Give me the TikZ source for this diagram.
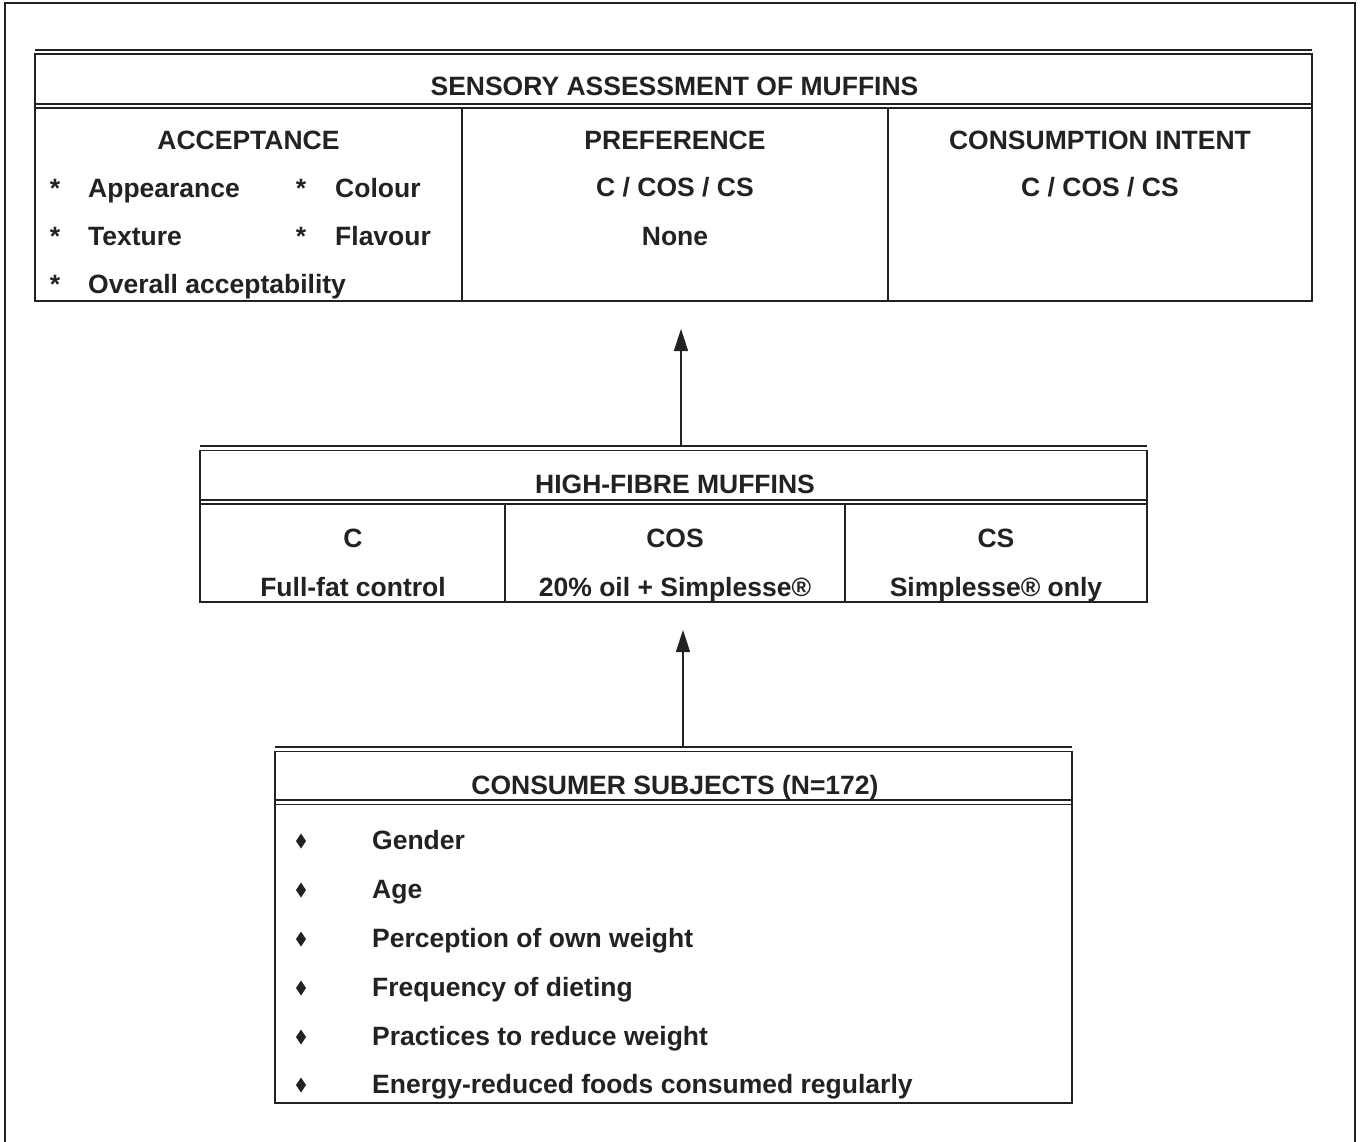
\documentclass[tikz,border=0pt]{standalone}
\usepackage{fontspec}
\setmainfont{Liberation Sans}
\usetikzlibrary{arrows.meta}
\definecolor{ink}{HTML}{222222}
\begin{document}
\begin{tikzpicture}[x=1pt,y=-1pt,
  rule/.style={draw=ink, line width=1.5pt},
  lbl/.style={anchor=base, inner sep=0pt, text=ink,
    font=\fontsize{26.5}{30}\selectfont\bfseries},
  lft/.style={lbl, anchor=base west},
  boxarea/.style={draw=none, inner sep=0pt, outer sep=0pt, anchor=north west},
  arr/.style={draw=ink, line width=1.5pt, -{Triangle[length=22pt,width=14pt]}}
]
\useasboundingbox (0,0) rectangle (1363,1142);
\fill[white] (0,0) rectangle (1363,1142);

% page frame
\draw[rule] (5,1142) -- (5,3) -- (1355,3) -- (1355,1142);

% ---------- sensory assessment table ----------
\node[boxarea, minimum width=1277pt, minimum height=251pt] (sens) at (35,50) {};
\draw[rule] (35,50) -- (1312,50);
\draw[rule] (35,54) rectangle (1312,301);
\draw[rule] (35,104) -- (1312,104);
\draw[rule] (35,108) -- (1312,108);
\draw[rule] (462,108) -- (462,301);
\draw[rule] (888,108) -- (888,301);

\node[lbl] (sensT) at (674.5,96) {SENSORY ASSESSMENT OF MUFFINS};
\node[lbl] (acc) at (248.5,150) {ACCEPTANCE};
\node[lbl] (pref) at (675,150) {PREFERENCE};
\node[lbl] (cons) at (1100,150) {CONSUMPTION INTENT};

\node[lbl] (s1) at (55,198) {*};
\node[lft] (app) at (88,198) {Appearance};
\node[lbl] (s2) at (301,198) {*};
\node[lft] (col) at (335,198) {Colour};
\node[lbl] (s3) at (55,246) {*};
\node[lft] (tex) at (88,246) {Texture};
\node[lbl] (s4) at (301,246) {*};
\node[lft] (fla) at (335,246) {Flavour};
\node[lbl] (s5) at (55,293) {*};
\node[lft] (ove) at (88,293) {Overall acceptability};

\node[lbl] (prefA) at (675,197) {C / COS / CS};
\node[lbl] (prefB) at (675,246) {None};
\node[lbl] (consA) at (1100,197) {C / COS / CS};

% ---------- high-fibre muffins table ----------
\node[boxarea, minimum width=947pt, minimum height=156pt] (fibre) at (200,446) {};
\draw[rule] (200,446) -- (1147,446);
\draw[rule] (200,450.5) rectangle (1147,602);
\draw[rule] (200,500) -- (1147,500);
\draw[rule] (200,504) -- (1147,504);
\draw[rule] (505,504) -- (505,602);
\draw[rule] (845,504) -- (845,602);

\node[lbl] (fibT) at (675,493) {HIGH-FIBRE MUFFINS};
\node[lbl] (c1) at (353,547) {C};
\node[lbl] (c2) at (675,547) {COS};
\node[lbl] (c3) at (996,547) {CS};
\node[lbl] (d1) at (353,596) {Full-fat control};
\node[lbl] (d2) at (675,596) {20\% oil + Simplesse®};
\node[lbl] (d3) at (996,596) {Simplesse® only};

% ---------- consumer subjects table ----------
\node[boxarea, minimum width=797pt, minimum height=356pt] (subj) at (275,747) {};
\draw[rule] (275,747) -- (1072,747);
\draw[rule] (275,751.5) rectangle (1072,1103);
\draw[rule] (275,800) -- (1072,800);
\draw[rule] (275,804.5) -- (1072,804.5);

\node[lbl] (subT) at (675,794) {CONSUMER SUBJECTS (N=172)};

% diamond bullets
\foreach \n/\yy in {1/841,2/890,3/939,4/988,5/1037,6/1085}{
  \coordinate (b\n) at (301,\yy);
  \fill[ink] (b\n) +(0,-7.5) -- +(5,0) -- +(0,7.5) -- +(-5,0) -- cycle;
}
\node[lft] (i1) at (372,849) {Gender};
\node[lft] (i2) at (372,898) {Age};
\node[lft] (i3) at (372,947) {Perception of own weight};
\node[lft] (i4) at (372,996) {Frequency of dieting};
\node[lft] (i5) at (372,1045) {Practices to reduce weight};
\node[lft] (i6) at (372,1093) {Energy-reduced foods consumed regularly};

% ---------- connectors ----------
\coordinate (up1) at (681,329);
\coordinate (up2) at (683,630);
\draw[arr] (fibre.north -| up1) -- (up1);
\draw[arr] (subj.north -| up2) -- (up2);
\end{tikzpicture}
\end{document}
